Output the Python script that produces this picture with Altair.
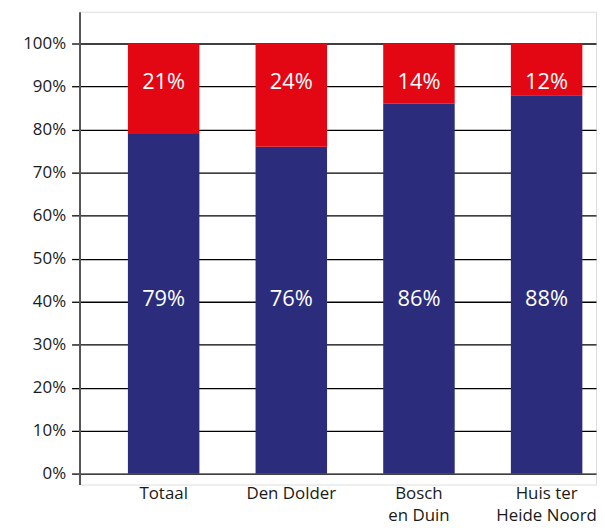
import altair as alt
import pandas as pd

categories = ["Totaal", "Den Dolder", "Bosch|en Duin", "Huis ter|Heide Noord"]
blue_values = [0.79, 0.76, 0.86, 0.88]
red_values = [0.21, 0.24, 0.14, 0.12]
blue_labels = ["79%", "76%", "86%", "88%"]
red_labels = ["21%", "24%", "14%", "12%"]
y_ticks = [i / 10 for i in range(11)]

rows = []
for c, b, r, bl, rl in zip(categories, blue_values, red_values, blue_labels, red_labels):
    rows.append({"cat": c, "series": "ja", "value": b, "order": 0, "label": bl})
    rows.append({"cat": c, "series": "nee", "value": r, "order": 1, "label": rl})
df = pd.DataFrame(rows)

FONT = "Open Sans"

x_enc = alt.X(
    "cat:N",
    sort=categories,
    title=None,
    scale=alt.Scale(paddingInner=0.44, paddingOuter=0.243, align=0.78),
    axis=alt.Axis(
        labelAngle=0,
        domain=False,
        ticks=False,
        labelFont=FONT,
        labelFontSize=17,
        labelColor="#1a1a1a",
        labelPadding=1,
        labelBaseline="top",
        labelLineHeight=22,
        labelExpr="split(datum.label, '|')",
    ),
)

y_scale = alt.Scale(domain=[-0.025, 1.074], nice=False, zero=False)

bars = alt.Chart(df).mark_bar().encode(
    x=x_enc,
    y=alt.Y(
        "value:Q",
        stack="zero",
        scale=y_scale,
        title=None,
        axis=alt.Axis(
            values=y_ticks,
            format=".0%",
            grid=True,
            gridColor="#000000",
            gridWidth=1.3,
            gridOpacity=1,
            tickColor="#000000",
            tickSize=8,
            tickWidth=1.3,
            domainColor="#555555",
            domainWidth=2,
            labelFont=FONT,
            labelFontSize=17,
            labelColor="#1a1a1a",
            labelPadding=6,
            minExtent=72,
        ),
    ),
    color=alt.Color(
        "series:N",
        scale=alt.Scale(domain=["ja", "nee"], range=["#2b2c7c", "#e30613"]),
        legend=None,
    ),
    order=alt.Order("order:Q"),
)

blue_text = alt.Chart(df[df.series == "ja"]).mark_text(
    color="white", font=FONT, fontSize=22, baseline="middle"
).encode(x=alt.X("cat:N", sort=categories), y=alt.datum(0.405), text="label:N")

red_text = alt.Chart(df[df.series == "nee"]).mark_text(
    color="white", font=FONT, fontSize=22, baseline="middle"
).encode(x=alt.X("cat:N", sort=categories), y=alt.datum(0.91), text="label:N")

chart = (
    alt.layer(bars, blue_text, red_text)
    .properties(width=520, height=476, padding={"left": 0, "top": 2, "right": 0, "bottom": 0})
    .configure_view(stroke=None)
    .configure(background="white")
)

chart.save("out.html", embed_options={"renderer": "svg", "actions": False})
